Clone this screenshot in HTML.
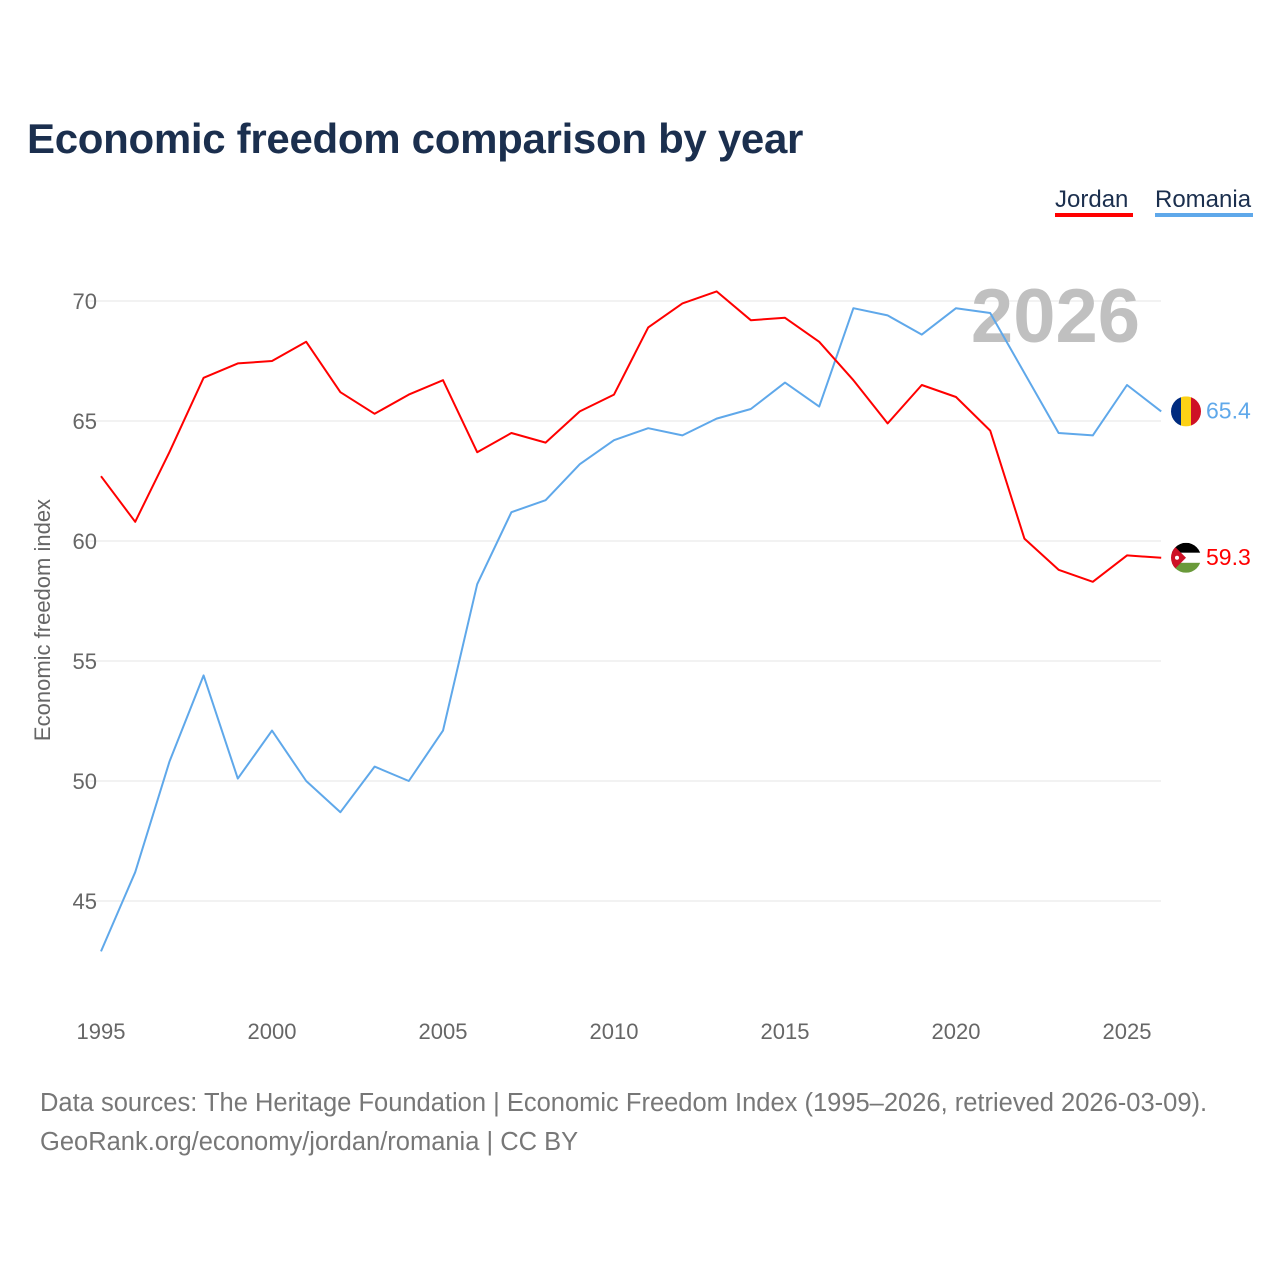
<!DOCTYPE html>
<html><head><meta charset="utf-8"><style>
body{margin:0;background:#fff;font-family:"Liberation Sans",sans-serif;}
svg text{font-family:"Liberation Sans",sans-serif;}
</style></head><body>
<svg id="chart" width="1280" height="1280">
<text x="27" y="153" font-size="42" font-weight="bold" fill="#1b2f4e" letter-spacing="-0.3">Economic freedom comparison by year</text>
<g><text x="1055" y="207" font-size="24" fill="#1b2f4e">Jordan</text><rect x="1055" y="213" width="78" height="4" fill="#ff0000"/></g>
<g><text x="1155" y="207" font-size="24" fill="#1b2f4e">Romania</text><rect x="1155" y="213" width="98" height="4" fill="#5fa8ea"/></g>
<g id="grid"></g>
<text x="1140" y="342" font-size="76" font-weight="bold" fill="#c0c0c0" text-anchor="end">2026</text>
<text transform="translate(50,620) rotate(-90)" font-size="22" fill="#666" text-anchor="middle">Economic freedom index</text>
<g id="series"></g>
<text x="40" y="1111" font-size="25.5" fill="#777">Data sources: The Heritage Foundation | Economic Freedom Index (1995–2026, retrieved 2026-03-09).</text>
<text x="40" y="1150" font-size="25.5" fill="#777">GeoRank.org/economy/jordan/romania | CC BY</text>
</svg>
<script>
const years=[1995,1996,1997,1998,1999,2000,2001,2002,2003,2004,2005,2006,2007,2008,2009,2010,2011,2012,2013,2014,2015,2016,2017,2018,2019,2020,2021,2022,2023,2024,2025,2026];
const jordan=[62.7,60.8,63.7,66.8,67.4,67.5,68.3,66.2,65.3,66.1,66.7,63.7,64.5,64.1,65.4,66.1,68.9,69.9,70.4,69.2,69.3,68.3,66.7,64.9,66.5,66.0,64.6,60.1,58.8,58.3,59.4,59.3];
const romania=[42.9,46.2,50.8,54.4,50.1,52.1,50.0,48.7,50.6,50.0,52.1,58.2,61.2,61.7,63.2,64.2,64.7,64.4,65.1,65.5,66.6,65.6,69.7,69.4,68.6,69.7,69.5,67.0,64.5,64.4,66.5,65.4];
const yTicks=[45,50,55,60,65,70];
const xTicks=[1995,2000,2005,2010,2015,2020,2025];
const NS="http://www.w3.org/2000/svg";
const X=y=>101+(y-1995)*34.2;
const Y=v=>301+(70-v)*24;
function mk(tag,attrs,parent){const e=document.createElementNS(NS,tag);for(const k in attrs)e.setAttribute(k,attrs[k]);parent.appendChild(e);return e;}
const grid=document.getElementById('grid'),ser=document.getElementById('series');
yTicks.forEach(v=>{
 const l=mk('line',{x1:85,x2:1161,y1:Y(v),y2:Y(v),stroke:'#e6e6e6','stroke-width':1},grid);
 
 
 const t=mk('text',{x:97,y:Y(v)+8,'font-size':22,fill:'#666','text-anchor':'end'},grid);t.textContent=v;
 
 
});
xTicks.forEach(yr=>{
 const t=mk('text',{x:X(yr),y:1039,'font-size':22,fill:'#666','text-anchor':'middle'},grid);t.textContent=yr;
 
 
});
function line(data,color,name){
 const p=mk('polyline',{points:data.map((v,i)=>X(years[i])+','+Y(v)).join(' '),fill:'none',stroke:color,'stroke-width':2,'stroke-linejoin':'round'},ser);
 
 
}
line(romania,'#5fa8ea','romania-line');
line(jordan,'#ff0000','jordan-line');
const rv=romania[romania.length-1],jv=jordan[jordan.length-1];
const rg=mk('g',{},ser);


const cr=mk('clipPath',{id:'cr'},rg);mk('circle',{cx:1186,cy:Y(rv),r:15},cr);
const rgg=mk('g',{'clip-path':'url(#cr)'},rg);
mk('rect',{x:1171,y:Y(rv)-15,width:10,height:30,fill:'#002b7f'},rgg);
mk('rect',{x:1181,y:Y(rv)-15,width:10,height:30,fill:'#fcd116'},rgg);
mk('rect',{x:1191,y:Y(rv)-15,width:10,height:30,fill:'#ce1126'},rgg);
const rl=mk('text',{x:1206,y:Y(rv)+7,'font-size':23,fill:'#5fa8ea'},ser);rl.textContent=rv.toFixed(1);


const jg=mk('g',{},ser);


const cj=mk('clipPath',{id:'cj'},jg);mk('circle',{cx:1186,cy:Y(jv),r:15},cj);
const jgg=mk('g',{'clip-path':'url(#cj)'},jg);
mk('rect',{x:1171,y:Y(jv)-15,width:30,height:10,fill:'#000'},jgg);
mk('rect',{x:1171,y:Y(jv)-5,width:30,height:10,fill:'#fff'},jgg);
mk('rect',{x:1171,y:Y(jv)+5,width:30,height:10,fill:'#6a9a3a'},jgg);
mk('polygon',{points:`1171,${Y(jv)-15} 1186,${Y(jv)} 1171,${Y(jv)+15}`,fill:'#ce1126'},jgg);
mk('circle',{cx:1177,cy:Y(jv),r:2,fill:'#fff'},jgg);
const jl=mk('text',{x:1206,y:Y(jv)+7,'font-size':23,fill:'#ff0000'},ser);jl.textContent=jv.toFixed(1);


</script>
</body></html>
